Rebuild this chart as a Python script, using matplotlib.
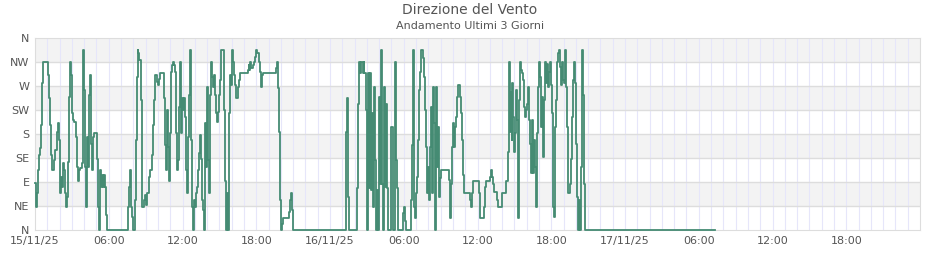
import matplotlib
matplotlib.use("Agg")
import matplotlib.pyplot as plt

# ore dall'inizio (15/11/25 00:00) e direzione del vento in gradi
ore = [0.0, 0.1, 0.2, 0.27, 0.35, 0.43, 0.5, 0.57, 0.65, 1.03, 1.1, 1.2, 1.27, 1.35, 1.57, 1.65,
       1.76, 1.84, 1.92, 2.0, 2.06, 2.14, 2.2, 2.28, 2.36, 2.44, 2.52, 2.6, 2.68, 2.76, 2.85,
       2.93, 3.0, 3.1, 3.2, 3.3, 3.4, 3.5, 3.58, 3.68, 3.8, 3.87, 3.93, 4.0, 4.1, 4.15, 4.23,
       4.3, 4.4, 4.5, 4.55, 4.63, 4.7, 4.83, 5.07, 5.12, 5.2, 5.28, 5.36, 5.45, 5.53, 5.6, 5.7,
       5.77, 5.85, 7.53, 7.6, 7.68, 7.76, 7.84, 7.9, 8.0, 8.1, 8.18, 8.26, 8.35, 8.42, 8.5,
       8.6, 8.67, 8.9, 8.97, 9.05, 9.13, 9.24, 9.32, 9.5, 9.57, 9.65, 9.73, 9.8, 9.9, 9.97,
       10.05, 10.13, 10.2, 10.5, 10.57, 10.68, 10.76, 10.84, 10.92, 11.0, 11.08, 11.17, 11.25,
       11.33, 11.4, 11.5, 11.57, 11.65, 11.73, 11.82, 11.9, 11.98, 12.06, 12.14, 12.2, 12.3,
       12.38, 12.46, 12.54, 12.6, 12.7, 12.8, 12.87, 12.95, 13.0, 13.1, 13.2, 13.27, 13.36,
       13.44, 13.5, 13.6, 13.7, 13.77, 13.85, 13.93, 14.0, 14.06, 14.14, 14.22, 14.3, 14.4,
       14.47, 14.55, 14.63, 14.7, 14.8, 14.88, 14.96, 15.04, 15.12, 15.37, 15.45, 15.53, 15.6,
       15.7, 15.77, 15.85, 15.93, 16.0, 16.1, 16.18, 16.26, 16.34, 16.5, 16.58, 16.67, 17.3,
       17.4, 17.45, 17.53, 17.6, 17.7, 17.78, 17.86, 17.94, 18.02, 18.1, 18.2, 18.27, 18.35,
       18.43, 18.5, 18.58, 19.58, 19.66, 19.75, 19.83, 19.9, 20.0, 20.08, 20.16, 20.66, 20.75,
       20.83, 20.92, 21.0,
       25.27, 25.33, 25.38, 25.43, 25.52, 26.22, 26.3, 26.38, 26.46, 26.55, 26.65, 26.74, 26.8,
       26.9, 26.98, 27.03, 27.1, 27.2, 27.28, 27.36, 27.44, 27.52, 27.6, 27.7, 27.77, 27.85,
       27.93, 28.0, 28.08, 28.17, 28.25, 28.33, 28.42, 28.5, 28.58, 28.66, 28.75, 29.0, 29.1,
       29.26, 29.33, 29.42, 29.5, 29.9, 30.0, 30.07, 30.15, 30.58, 30.66, 30.75, 30.83, 30.9,
       31.0, 31.07, 31.15, 31.23, 31.3, 31.4, 31.56, 31.64, 31.72, 31.8, 31.88, 31.96, 32.05,
       32.13, 32.2, 32.3, 32.37, 32.45, 32.54, 32.6, 32.7, 32.78, 32.86, 32.94, 33.03, 33.7,
       33.78, 33.86, 33.94, 34.03, 34.1, 34.18, 34.27, 34.35, 34.43, 34.6, 34.67, 34.76, 34.84,
       34.92, 35.4, 35.5, 35.57, 35.65, 36.1, 36.17, 36.55, 36.63, 36.7, 37.0, 37.07, 37.16,
       37.25, 37.33, 37.58, 37.66, 37.98, 38.3, 38.47, 38.55, 38.6, 38.66, 38.7, 38.77, 38.82,
       38.9, 38.98, 39.05, 39.13, 39.2, 39.3, 39.38, 39.47, 39.55, 39.6, 39.7, 39.8, 39.86,
       39.94, 40.0, 40.1, 40.18, 40.26, 40.35, 40.43, 40.53, 40.6, 40.68, 40.77, 40.85, 40.93,
       41.0, 41.1, 41.18, 41.26, 41.35, 41.43, 41.5, 41.6, 41.67, 41.75, 41.84, 41.9, 42.0,
       42.08, 42.15, 42.24, 42.32, 42.4, 42.48, 42.56, 42.64, 42.72, 42.8, 42.88, 42.97, 43.05,
       43.13, 43.2, 43.3, 43.37, 43.52, 43.6, 43.7, 43.77, 43.86, 43.94, 44.0, 44.1, 44.18,
       44.27, 44.35, 44.43, 44.5, 44.54, 44.6, 44.65, 44.73, 55.33]

direzione = [89, 44, 69, 112, 140, 153, 197, 275, 315, 290, 247, 197, 140, 112, 131, 150,
             184, 201, 169, 103, 69, 100, 81, 125, 112, 69, 44, 62, 128, 250, 315,
             290, 219, 206, 203, 175, 119, 91, 112, 116, 125, 269, 337, 262, 119, 44, 175,
             119, 253, 290, 162, 112, 175, 181, 134, 44, 0, 112, 81, 103, 81, 103, 81,
             28, 0, 19, 44, 81, 112, 44, 25, 0, 56, 169, 287, 337, 331, 319,
             244, 44, 56, 66, 47, 69, 100, 112, 140, 197, 244, 275, 290, 278, 272,
             284, 290, 294, 247, 159, 112, 225, 156, 91, 181, 297, 309, 315,
             309, 297, 181, 112, 131, 231, 315, 181, 247, 225, 247, 212, 112,
             69, 175, 253, 337, 169, 44, 0, 56, 44, 69, 81, 112, 144,
             178, 134, 56, 37, 0, 200, 119, 269, 131, 69, 253, 315, 287,
             269, 290, 253, 219, 203, 222, 253, 281, 337, 225, 91, 0, 69,
             0, 219, 290, 272, 337, 315, 290, 272, 247, 269, 281, 294, 300,
             309, 300, 315, 303, 309, 315, 325, 331, 337, 331, 315, 297, 269,
             284, 290, 294, 303, 315, 266, 184, 56, 0, 12, 22, 34, 56,
             69, 37, 0,
             62, 184, 247, 62, 0, 78, 237, 315, 294, 315, 294, 315, 294,
             225, 78, 0, 294, 78, 294, 75, 219, 44, 269, 131, 0, 75,
             0, 250, 87, 337, 87, 0, 269, 81, 237, 78, 0, 194, 0,
             315, 131, 78, 0, 31, 44, 16, 0, 56, 159, 337, 44, 22,
             69, 100, 169, 262, 297, 337, 322, 287, 225, 156, 69, 119, 56,
             156, 231, 69, 269, 200, 0, 269, 119, 194, 62, 97, 112, 94,
             22, 87, 156, 200, 156, 194, 212, 250, 272, 250, 219, 169, 103,
             69, 56, 44, 69, 91, 69, 22, 44, 81, 91, 100, 112, 100,
             87, 72, 56, 44, 69, 91, 147, 259, 315, 184, 259, 169, 275,
             212, 147, 181, 262, 206, 22, 244, 315, 300, 294, 281, 231, 212,
             225, 237, 269, 206, 162, 106, 206, 106, 169, 119, 44, 181, 269,
             315, 287, 194, 250, 137, 244, 315, 275, 312, 269, 297, 315, 272,
             219, 44, 25, 194, 244, 315, 331, 337, 306, 272, 315, 281, 275,
             337, 269, 194, 69, 87, 134, 212, 281, 315, 275, 162, 62, 0,
             56, 0, 119, 250, 337, 253, 87, 0, 0]

tick_ore = [0, 6, 12, 18, 24, 30, 36, 42, 48, 54, 60, 66]
tick_etichette = ["15/11/25", "06:00", "12:00", "18:00", "16/11/25", "06:00", "12:00", "18:00",
                  "17/11/25", "06:00", "12:00", "18:00"]
gradi = [0, 45, 90, 135, 180, 225, 270, 315, 360]
punti = ["N", "NE", "E", "SE", "S", "SW", "W", "NW", "N"]

fig = plt.figure(figsize=(9.4, 2.6), dpi=100)
ax = fig.add_axes([35 / 940, 30 / 260, 885 / 940, 192 / 260])

# fasce grigie alternate
for g in [45, 135, 225, 315]:
    ax.axhspan(g, g + 45, color="#f3f3f3", zorder=0, lw=0)

# griglia oraria
for h in range(1, 72):
    ax.axvline(h, color="#e6e6fa", lw=0.8, zorder=1)
for g in gradi[1:-1]:
    ax.axhline(g, color="#dddddd", lw=1, zorder=1)

ax.plot(ore, direzione, drawstyle="steps-post", color="#458b73", lw=1.3, zorder=3, clip_on=False)

ax.set_xlim(0, 72)
ax.set_ylim(0, 360)
ax.set_xticks(tick_ore)
ax.set_xticklabels(tick_etichette)
ax.set_yticks(gradi)
ax.set_yticklabels(punti)
ax.tick_params(length=0, labelsize=8, colors="#555555", pad=4)
for s in ax.spines.values():
    s.set_color("#dddddd")

fig.text(0.5, 1 - 10 / 260, "Direzione del Vento", ha="center", va="center", fontsize=10, color="#555555")
fig.text(0.5, 1 - 26 / 260, "Andamento Ultimi 3 Giorni", ha="center", va="center", fontsize=8, color="#555555")

fig.savefig("out.png", dpi=100)
